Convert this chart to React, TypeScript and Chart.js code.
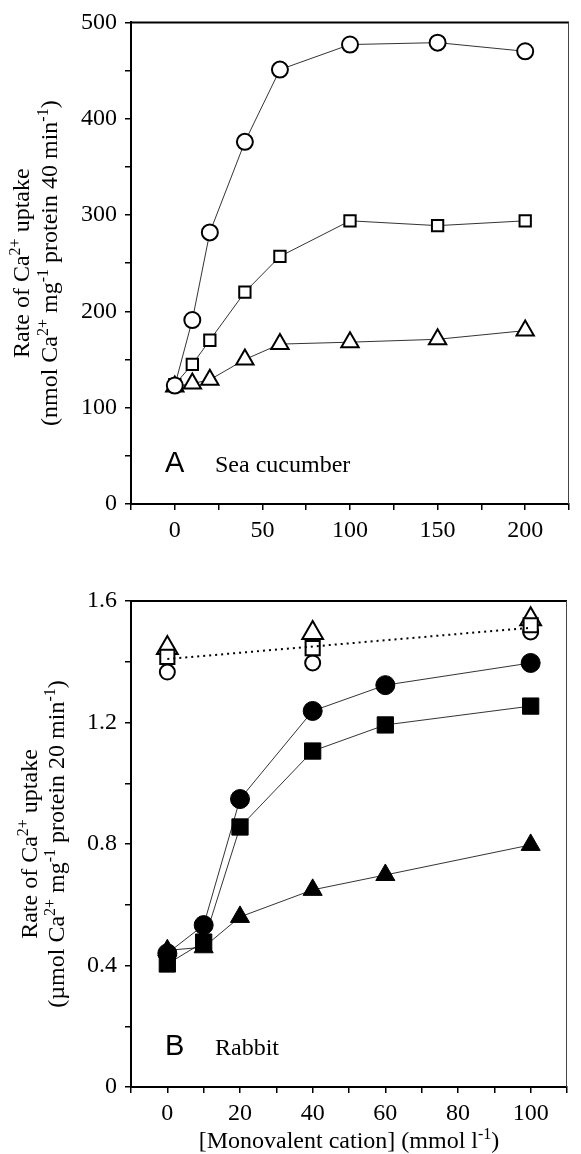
import React, { useEffect, useRef } from 'react';
import { Chart, registerables } from 'chart.js';

Chart.register(...registerables);

// ---------- Data ----------
// Panel A: Sea cucumber
const seaX = [0, 10, 20, 40, 60, 100, 150, 200];
const seaCircle = [123, 191, 282, 376, 451, 477, 479, 470];
const seaSquare = [124, 145, 170, 220, 257, 294, 289, 294];
const seaTriangle = [122, 125, 129, 150, 166, 168, 171, 180];
const seaXTickLabels = [0, 50, 100, 150, 200];
const seaYTickLabels = [0, 100, 200, 300, 400, 500];

// Panel B: Rabbit
const rabX = [0, 10, 20, 40, 60, 100];
const rabFilledCircle = [0.44, 0.533, 0.948, 1.238, 1.323, 1.396];
const rabFilledSquare = [0.405, 0.477, 0.856, 1.106, 1.192, 1.254];
const rabFilledTriangle = [0.45, 0.46, 0.56, 0.649, 0.698, 0.797];
const rabOpenX = [0, 40, 100];
const rabOpenCircle = [1.366, 1.396, 1.498];
const rabOpenSquare = [1.416, 1.445, 1.52];
const rabOpenTriangle = [1.445, 1.495, 1.54];
const rabFitX = [0, 100];
const rabFit = [1.409, 1.512];
const rabXTickLabels = [0, 20, 40, 60, 80, 100];
const rabYTickLabels = ['0', '0.4', '0.8', '1.2', '1.6'];

const SERIF = "'Liberation Serif', 'Times New Roman', serif";
const SANS = "'Liberation Sans', Arial, sans-serif";

type Seg = { t: string; sup?: boolean };

function drawRich(ctx: CanvasRenderingContext2D, segs: Seg[], x: number, y: number, size: number, align: 'center' | 'left') {
  const base = `${size}px ${SERIF}`;
  const supF = `${Math.round(size * 0.66)}px ${SERIF}`;
  let w = 0;
  for (const s of segs) {
    ctx.font = s.sup ? supF : base;
    w += ctx.measureText(s.t).width;
  }
  let cx = align === 'center' ? x - w / 2 : x;
  ctx.textAlign = 'left';
  ctx.textBaseline = 'alphabetic';
  for (const s of segs) {
    ctx.font = s.sup ? supF : base;
    ctx.fillText(s.t, cx, s.sup ? y - size * 0.38 : y);
    cx += ctx.measureText(s.t).width;
  }
}

const pts = (xs: number[], ys: number[]) => xs.map((x, i) => ({ x, y: ys[i] }));

function makePlugin(cfg: {
  yLines: Seg[][];
  yLineX: number[];
  letter: string;
  name: string;
  xTitle?: Seg[];
  xTitleY?: number;
}) {
  return {
    id: 'decor',
    afterDraw(chart: any) {
      const ctx: CanvasRenderingContext2D = chart.ctx;
      const a = chart.chartArea;
      ctx.save();
      ctx.strokeStyle = '#000';
      ctx.lineWidth = 2;
      ctx.beginPath();
      ctx.moveTo(a.left, a.top);
      ctx.lineTo(a.right, a.top);
      ctx.stroke();
      ctx.lineWidth = 1;
      ctx.strokeStyle = '#444';
      ctx.beginPath();
      ctx.moveTo(a.right - 0.5, a.top);
      ctx.lineTo(a.right - 0.5, a.bottom);
      ctx.stroke();
      ctx.fillStyle = '#000';
      const cy = (a.top + a.bottom) / 2;
      cfg.yLines.forEach((segs, i) => {
        ctx.save();
        ctx.translate(cfg.yLineX[i], cy);
        ctx.rotate(-Math.PI / 2);
        drawRich(ctx, segs, 0, 0, 24, 'center');
        ctx.restore();
      });
      ctx.font = `29px ${SANS}`;
      ctx.textAlign = 'left';
      ctx.textBaseline = 'alphabetic';
      ctx.fillText(cfg.letter, a.left + 34, a.bottom - 32);
      ctx.font = `24px ${SERIF}`;
      ctx.fillText(cfg.name, a.left + 84, a.bottom - 32);
      if (cfg.xTitle && cfg.xTitleY) {
        drawRich(ctx, cfg.xTitle, (a.left + a.right) / 2, cfg.xTitleY, 24, 'center');
      }
      ctx.restore();
    },
  };
}

function axisCommon(extra: any) {
  return {
    type: 'linear',
    ...extra,
    grid: {
      display: true,
      drawOnChartArea: false,
      drawTicks: true,
      tickLength: 6,
      color: '#000',
      lineWidth: 1.5,
    },
    border: { display: true, color: '#000', width: 2 },
  };
}

const lineStyle = { borderColor: 'rgba(0,0,0,0.8)', borderWidth: 1, showLine: true, tension: 0 };

function SeaCucumber() {
  const ref = useRef<HTMLCanvasElement>(null);
  useEffect(() => {
    const chart = new Chart(ref.current as HTMLCanvasElement, {
      type: 'scatter',
      data: {
        datasets: [
          {
            data: pts(seaX, seaCircle),
            ...lineStyle,
            pointStyle: 'circle',
            pointRadius: 8,
            pointBackgroundColor: '#fff',
            pointBorderColor: '#000',
            pointBorderWidth: 2,
          },
          {
            data: pts(seaX, seaSquare),
            ...lineStyle,
            pointStyle: 'rect',
            pointRadius: 8,
            pointBackgroundColor: '#fff',
            pointBorderColor: '#000',
            pointBorderWidth: 2,
          },
          {
            data: pts(seaX, seaTriangle),
            ...lineStyle,
            pointStyle: 'triangle',
            pointRadius: 10,
            pointBackgroundColor: '#fff',
            pointBorderColor: '#000',
            pointBorderWidth: 2,
          },
        ],
      } as any,
      options: {
        animation: false,
        responsive: false,
        devicePixelRatio: 1,
        layout: { padding: { top: 19, right: 2, left: 0, bottom: 0 } },
        plugins: { legend: { display: false }, tooltip: { enabled: false } },
        scales: {
          x: axisCommon({
            min: -25,
            max: 225,
            afterFit: (s: any) => { s.height = 56; },
            ticks: {
              stepSize: 25,
              autoSkip: false,
              maxRotation: 0,
              padding: 6,
              color: '#000',
              font: { family: SERIF, size: 24 },
              callback: (v: any) => (seaXTickLabels.includes(Math.round(v)) && Math.abs(v - Math.round(v)) < 1e-6 ? String(Math.round(v)) : ''),
            },
          }),
          y: axisCommon({
            min: 0,
            max: 500,
            afterFit: (s: any) => { s.width = 131; },
            ticks: {
              stepSize: 50,
              autoSkip: false,
              padding: 8,
              color: '#000',
              font: { family: SERIF, size: 24 },
              callback: (v: any) => (seaYTickLabels.includes(Math.round(v)) ? String(Math.round(v)) : ''),
            },
          }),
        },
      } as any,
      plugins: [
        makePlugin({
          yLines: [
            [{ t: 'Rate of Ca' }, { t: '2+', sup: true }, { t: ' uptake' }],
            [{ t: '(nmol Ca' }, { t: '2+', sup: true }, { t: ' mg' }, { t: '-1', sup: true }, { t: ' protein 40 min' }, { t: '-1', sup: true }, { t: ')' }],
          ],
          yLineX: [29, 57],
          letter: 'A',
          name: 'Sea cucumber',
        }),
      ],
    });
    return () => chart.destroy();
  }, []);
  return <canvas ref={ref} width={581} height={560} style={{ position: 'absolute', left: 0, top: 0 }} />;
}

function Rabbit() {
  const ref = useRef<HTMLCanvasElement>(null);
  useEffect(() => {
    const open = { showLine: false, pointBackgroundColor: '#fff', pointBorderColor: '#000', pointBorderWidth: 2 };
    const filled = { ...lineStyle, pointBackgroundColor: '#000', pointBorderColor: '#000', pointBorderWidth: 1 };
    const chart = new Chart(ref.current as HTMLCanvasElement, {
      type: 'scatter',
      data: {
        datasets: [
          { data: pts(rabOpenX, rabOpenTriangle), ...open, pointStyle: 'triangle', pointRadius: 12, order: 3 },
          { data: pts(rabOpenX, rabOpenSquare), ...open, pointStyle: 'rect', pointRadius: 10, order: 2 },
          { data: pts(rabOpenX, rabOpenCircle), ...open, pointStyle: 'circle', pointRadius: 7.5, order: 4 },
          {
            data: pts(rabFitX, rabFit),
            showLine: true,
            borderColor: '#000',
            borderWidth: 2,
            borderDash: [2, 4],
            pointRadius: 0,
            order: 1,
          },
          { data: pts(rabX, rabFilledCircle), ...filled, pointStyle: 'circle', pointRadius: 9.5, order: 5 },
          { data: pts(rabX, rabFilledSquare), ...filled, pointStyle: 'rect', pointRadius: 11.5, order: 6 },
          { data: pts(rabX, rabFilledTriangle), ...filled, pointStyle: 'triangle', pointRadius: 11, order: 7 },
        ],
      } as any,
      options: {
        animation: false,
        responsive: false,
        devicePixelRatio: 1,
        layout: { padding: { top: 41, right: 2, left: 0, bottom: 0 } },
        plugins: { legend: { display: false }, tooltip: { enabled: false } },
        scales: {
          x: axisCommon({
            min: -10,
            max: 110,
            afterFit: (s: any) => { s.height = 67; },
            ticks: {
              stepSize: 10,
              autoSkip: false,
              maxRotation: 0,
              padding: 6,
              color: '#000',
              font: { family: SERIF, size: 24 },
              callback: (v: any) => (rabXTickLabels.includes(Math.round(v)) && Math.abs(v - Math.round(v)) < 1e-6 ? String(Math.round(v)) : ''),
            },
          }),
          y: axisCommon({
            min: 0,
            max: 1.6,
            afterFit: (s: any) => { s.width = 131; },
            ticks: {
              stepSize: 0.2,
              autoSkip: false,
              padding: 8,
              color: '#000',
              font: { family: SERIF, size: 24 },
              callback: (v: any) => {
                const k = Math.round(v * 10);
                const lbl = k === 0 ? '0' : (k / 10).toFixed(1);
                return rabYTickLabels.includes(lbl) ? lbl : '';
              },
            },
          }),
        },
      } as any,
      plugins: [
        makePlugin({
          yLines: [
            [{ t: 'Rate of Ca' }, { t: '2+', sup: true }, { t: ' uptake' }],
            [{ t: '(µmol Ca' }, { t: '2+', sup: true }, { t: ' mg' }, { t: '-1', sup: true }, { t: ' protein 20 min' }, { t: '-1', sup: true }, { t: ')' }],
          ],
          yLineX: [37, 64],
          letter: 'B',
          name: 'Rabbit',
          xTitle: [{ t: '[Monovalent cation] (mmol l' }, { t: '-1', sup: true }, { t: ')' }],
          xTitleY: 588,
        }),
      ],
    });
    return () => chart.destroy();
  }, []);
  return <canvas ref={ref} width={581} height={594} style={{ position: 'absolute', left: 0, top: 560 }} />;
}

export default function App() {
  return (
    <div style={{ position: 'absolute', left: 0, top: 0, width: 581, height: 1154, background: '#fff', overflow: 'hidden' }}>
      <SeaCucumber />
      <Rabbit />
    </div>
  );
}
